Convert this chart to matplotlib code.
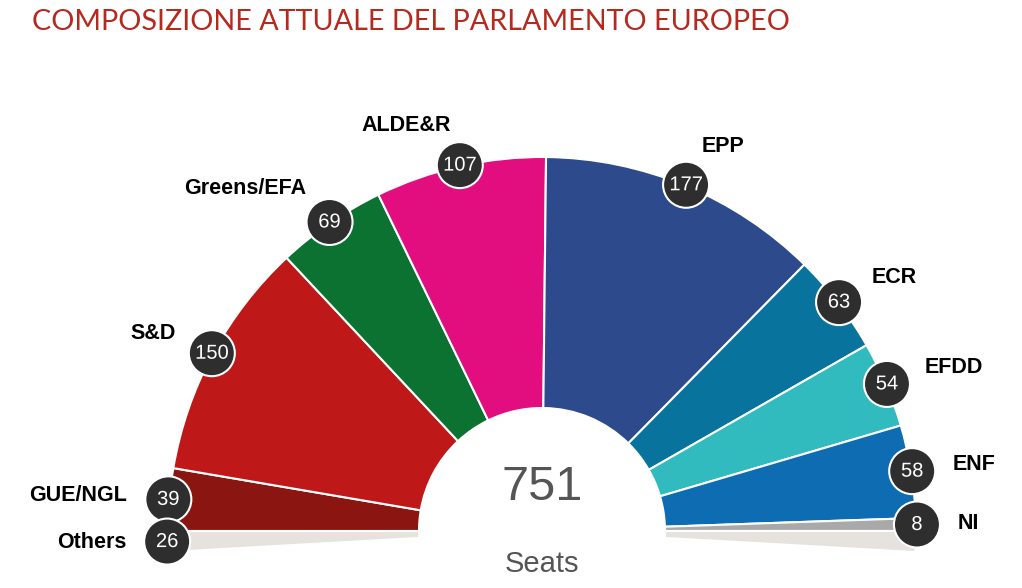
import matplotlib

matplotlib.use("Agg")

import matplotlib.pyplot as plt
import matplotlib.patches as mpatches
import matplotlib.patheffects as pe
import numpy as np

# seats per group, left to right around the hemicycle
parties = ["GUE/NGL", "S&D", "Greens/EFA", "ALDE&R", "EPP", "ECR", "EFDD", "ENF", "NI"]
seats = [39, 150, 69, 107, 177, 63, 54, 58, 8]
colors = ["#8b1611", "#bf1818", "#0b7232", "#e20e80", "#2d4a8c",
          "#08739c", "#31bbbe", "#0e6cb2", "#a9a9a9"]
others_label = "Others"
others_seats = 26
others_color = "#e6e3df"
total_seats = 751
title = "COMPOSIZIONE ATTUALE DEL PARLAMENTO EUROPEO"

W, H = 1022, 588
fig = plt.figure(figsize=(W / 100, H / 100), dpi=100)
ax = fig.add_axes([0, 0, 1, 1])

cx, cy = 542, H - 531
r_out, r_in = 374, 123

# the upper half holds the groups; "Others" is split across the two ends
half = sum(seats)
others_half = others_seats / 2
hidden = half - others_seats
values = seats + [others_half, hidden, others_half]
wedges, _ = ax.pie(values, colors=colors + [others_color, "white", others_color],
                   startangle=180, counterclock=False, center=(cx, cy), radius=r_out,
                   wedgeprops=dict(width=r_out - r_in, edgecolor="white", linewidth=1.5))
wedges[-2].set_visible(False)

ax.set_xlim(0, W)
ax.set_ylim(0, H)
ax.set_aspect("equal")
ax.axis("off")

deg = 180.0 / half
cum = np.cumsum([0] + seats[:-1])
mids = 180 - (cum + np.array(seats) / 2) * deg
labels = parties + [others_label]
counts = seats + [others_seats]
angles = list(mids) + [180 + others_half / 2 * deg]

r_badge, r_label = 375, 416
for name, n, a in zip(labels, counts, angles):
    t = np.radians(a)
    bx, by = cx + r_badge * np.cos(t), cy + r_badge * np.sin(t)
    ax.add_patch(mpatches.Circle((bx, by), 23, facecolor="#2e2e2e",
                                 edgecolor="white", linewidth=1.5, zorder=4))
    ax.text(bx, by, str(n), color="white", fontsize=14.5, ha="center", va="center",
            family="Liberation Sans", zorder=5,
            path_effects=[pe.withStroke(linewidth=2, foreground="#2e2e2e")])
    lx, ly = cx + r_label * np.cos(t), cy + r_label * np.sin(t)
    ax.text(lx, ly, name, fontsize=15.5, fontweight="bold", color="black",
            family="Liberation Sans", ha="left" if np.cos(t) > 0 else "right",
            va="center", zorder=5)

ax.text(cx, H - 488, str(total_seats), fontsize=35, color="#555555",
        ha="center", va="center", family="Liberation Sans")
ax.text(cx, H - 564, "Seats", fontsize=21, color="#555555",
        ha="center", va="center", family="Liberation Sans")

fig.text(32 / W, 1 - 22 / H, title, fontsize=20.7, color="#b5291f",
         family="Lato", ha="left", va="center")

fig.savefig("out.png", dpi=100)
plt.close(fig)
